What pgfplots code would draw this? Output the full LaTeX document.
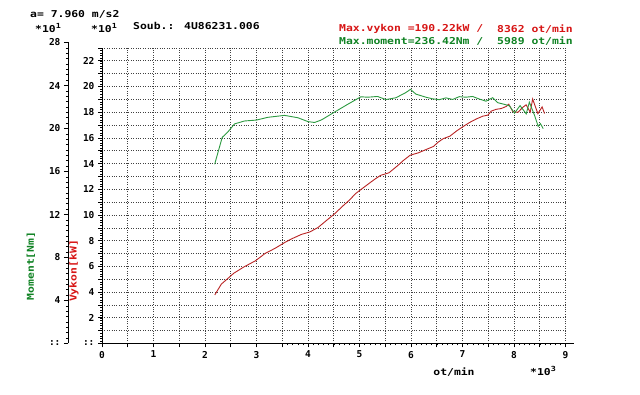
\documentclass[border=0pt]{standalone}
\usepackage{pgfplots}
\pgfplotsset{compat=1.18}
\usepackage{graphicx}
\usepackage{fontspec}
\setmainfont{DejaVu Sans Mono}
\definecolor{cred}{RGB}{185,35,35}
\definecolor{cgreen}{RGB}{45,155,65}
\definecolor{tred}{RGB}{215,20,20}
\definecolor{tgreen}{RGB}{15,130,35}
\newcommand{\txt}[1]{\scalebox{1.2}[1]{\bfseries\fontsize{9.5}{10}\selectfont #1}}
\newcommand{\supr}[1]{\raisebox{3.5pt}{\fontsize{7}{7}\selectfont #1}}

\pgfplotstableread{
rpm kw
2190 37.8
2317 46.2
2432 50.2
2560 54.7
2752 59.5
2977 64.3
3169 70.1
3362 74.1
3554 78.7
3681 81.4
3874 84.9
4036 86.8
4196 90.3
4355 95.6
4516 100.9
4674 106.9
4802 111.5
4929 116.8
5120 122.6
5282 127.4
5408 130.8
5571 132.8
5730 138.0
5858 142.6
5984 146.5
6147 148.4
6274 150.6
6435 153.3
6532 156.8
6627 159.4
6755 161.3
6883 165.3
7012 168.8
7139 172.0
7268 174.7
7397 176.9
7494 177.7
7557 180.8
7653 182.2
7750 182.8
7847 184.4
7898 186.2
7978 180.4
8076 179.9
8171 183.8
8235 185.7
8315 180.0
8362 190.2
8464 178.8
8546 184.1
8593 178.9
}\power

\pgfplotstableread{
rpm nm
2188 166.8
2334 191.7
2449 197.1
2575 204.3
2768 207.0
2995 207.8
3221 210.4
3544 212.2
3804 210.0
4000 206.4
4128 205.6
4258 207.9
4513 215.2
4771 222.5
5027 229.5
5157 229.1
5351 229.8
5513 226.9
5707 228.6
5899 233.4
5989 236.4
6095 232.0
6289 229.1
6420 227.6
6549 226.8
6678 228.5
6809 227.0
6936 229.6
7066 229.1
7196 229.8
7326 227.4
7456 225.4
7585 228.6
7684 224.0
7812 222.5
7911 221.1
8010 214.3
8118 221.3
8237 213.6
8298 224.5
8399 212.2
8469 202.0
8513 204.5
8567 199.9
}\moment

\begin{document}
\begin{tikzpicture}[x=1pt,y=1pt]
\useasboundingbox (0,0) rectangle (640,395);
\fill[white] (0,0) rectangle (640,395);

% main axis: power (kW)
\begin{axis}[
  at={(102pt,51.5pt)}, anchor=south west,
  scale only axis, width=463.5pt, height=295.6pt,
  xmin=0, xmax=9000, ymin=0, ymax=230,
  axis lines=left,
  axis line style={-, line width=0.9pt},
  x axis line style={shorten >=-8pt},
  tick align=outside,
  major tick length=4pt, minor tick length=4pt,
  tick style={black, line width=0.6pt},
  xtick={0,1000,...,9000}, xticklabels={0,1,2,3,4,5,6,7,8,9},
  minor xtick={500,1500,...,8500},
  ytick={0,20,...,220}, yticklabels={::,2,4,6,8,10,12,14,16,18,20,22},
  minor ytick={10,30,...,230},
  extra x ticks={3600,3700,...,8900}, extra x tick labels={},
  extra y ticks={2,4,...,228}, extra y tick labels={},
  extra tick style={grid=none, major tick length=2pt, tick style={line width=0.4pt}},
  grid=both,
  major grid style={black!75, line width=0.6pt, dash pattern=on 0.8pt off 1.6pt},
  minor grid style={black!75, line width=0.6pt, dash pattern=on 0.8pt off 1.6pt},
  /pgf/number format/assume math mode=true,
  ticklabel style={font=\bfseries\fontsize{9.5}{10}\selectfont},
  clip=false,
]
\addplot[cred, line width=0.9pt] table[x=rpm, y=kw] {\power};
\end{axis}

% moment axis (Nm)
\begin{axis}[
  at={(68pt,51.5pt)}, anchor=south west,
  scale only axis, width=497.5pt, height=301pt,
  xmin=-660, xmax=9000, ymin=0, ymax=280,
  axis y line=left, axis x line=none,
  axis line style={-, line width=0.9pt},
  tick align=outside,
  major tick length=4pt, minor tick length=2pt,
  tick style={black, line width=0.6pt},
  ytick={0,40,...,280}, yticklabels={::,4,8,12,16,20,24,28},
  minor ytick={5,10,...,275},
  /pgf/number format/assume math mode=true,
  ticklabel style={font=\bfseries\fontsize{9.5}{10}\selectfont},
  clip=false,
]
\addplot[cgreen, line width=0.9pt] table[x=rpm, y=nm] {\moment};
\end{axis}

% texts
\node[anchor=west, inner sep=0] at (30,381) {\txt{a= 7.960 m/s2}};
\node[anchor=west, inner sep=0] at (35,367) {\txt{*10\supr{1}}};
\node[anchor=west, inner sep=0] at (91,367) {\txt{*10\supr{1}}};
\node[anchor=west, inner sep=0] at (133,369) {\txt{Soub.:}};
\node[anchor=west, inner sep=0] at (184,369) {\txt{4U86231.006}};
\node[anchor=west, inner sep=0, text=tred] at (339,366) {\txt{Max.vykon =190.22kW /}};
\node[anchor=west, inner sep=0, text=tred] at (497,366) {\txt{8362 ot/min}};
\node[anchor=west, inner sep=0, text=tgreen] at (339,354) {\txt{Max.moment=236.42Nm /}};
\node[anchor=west, inner sep=0, text=tgreen] at (497,354) {\txt{5989 ot/min}};
\node[rotate=90, inner sep=0, text=tgreen] at (31,129) {\txt{Moment[Nm]}};
\node[rotate=90, inner sep=0, text=tred] at (74,124) {\txt{Vykon[kW]}};
\node[inner sep=0] at (454,23) {\txt{ot/min}};
\node[inner sep=0] at (543,24) {\txt{*10\supr{3}}};
\end{tikzpicture}
\end{document}
